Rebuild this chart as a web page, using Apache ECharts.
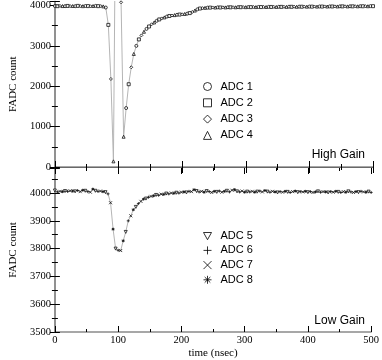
<!DOCTYPE html>
<html>
<head>
<meta charset="utf-8">
<title>FADC pulse</title>
<script src="https://cdn.jsdelivr.net/npm/echarts@6/dist/echarts.min.js"></script>
<style>
  html, body { margin: 0; padding: 0; background: #fff; }
  #chart { width: 382px; height: 360px; }
</style>
</head>
<body>
<div id="chart"></div>
<script>
// samples every 4 ns, 0..500 ns; ADC n takes every 4th sample
var highGain = [
  3988, 3984, 3990, 3986, 3983, 3989, 3985, 3987, 3983, 3990,   // 0-36
  3986, 3984, 3988, 3985, 3982, 3987, 3990, 3984, 3986, 3978,   // 40-76
  3950, 3520, 2180, 140, 7700, 7700, 4080, 750, 1460, 2050,     // 80-116
  2470, 2800, 3000, 3160, 3260, 3350, 3420, 3480, 3535, 3580,   // 120-156
  3620, 3655, 3680, 3705, 3725, 3740, 3752, 3762, 3770, 3776,   // 160-196
  3782, 3790, 3798, 3812, 3840, 3875, 3905, 3925, 3935, 3942,   // 200-236
  3946, 3948, 3952, 3950, 3954, 3951, 3955, 3953, 3957, 3955,   // 240-276
  3958, 3956, 3960, 3958, 3961, 3959, 3962, 3960, 3963, 3961,   // 280-316
  3964, 3962, 3965, 3963, 3966, 3964, 3967, 3965, 3968, 3966,   // 320-356
  3969, 3967, 3970, 3968, 3971, 3969, 3972, 3970, 3973, 3971,   // 360-396
  3974, 3972, 3975, 3973, 3976, 3974, 3977, 3975, 3977, 3976,   // 400-436
  3978, 3977, 3979, 3978, 3980, 3978, 3981, 3979, 3982, 3980,   // 440-476
  3983, 3981, 3984, 3982, 3985, 3983                            // 480-500
];
var lowGain = [
  4009, 4004, 4006, 4005, 4007, 4006, 4008, 4007, 4006, 4009,   // 0-36
  4005, 4010, 4008, 4005, 4003, 4014, 4008, 4006, 4007, 4005,   // 40-76
  4003, 3997, 3965, 3870, 3800, 3794, 3793, 3828, 3860, 3900,   // 80-116
  3918, 3940, 3950, 3962, 3970, 3978, 3980, 3985, 3988, 3990,   // 120-156
  3993, 3992, 3996, 3995, 3998, 3997, 4000, 3999, 4001, 4000,   // 160-196
  4003, 4004, 4002, 4006, 4005, 4012, 4007, 4004, 4006, 4003,   // 200-236
  4007, 4005, 4002, 4006, 4004, 4007, 4003, 4006, 4008, 4004,   // 240-276
  4010, 4012, 4006, 4004, 4007, 4003, 4005, 4004, 4006, 4003,   // 280-316
  4005, 4007, 4004, 4009, 4005, 4003, 4006, 4004, 4002, 4005,   // 320-356
  4003, 4006, 4004, 4002, 4005, 4007, 4003, 4005, 4004, 4006,   // 360-396
  4003, 4005, 4002, 4004, 4006, 4003, 4005, 4004, 4002, 4005,   // 400-436
  4003, 4006, 4004, 4002, 4005, 4003, 4006, 4004, 4002, 4005,   // 440-476
  4003, 4006, 4004, 4003, 4005, 4002                            // 480-500
];
var sampleStep = 4;
var highNames = ['ADC 1', 'ADC 2', 'ADC 3', 'ADC 4'];
var lowNames = ['ADC 5', 'ADC 6', 'ADC 7', 'ADC 8'];
var highSymbols = ['circle', 'rect', 'diamond', 'triangle'];
var lowSymbols = [
  'path://M0,0 L10,0 L5,9 Z',
  'path://M5,0 L5,10 M0,5 L10,5',
  'path://M1,1 L9,9 M9,1 L1,9',
  'path://M5,0 L5,10 M0,5 L10,5 M1.5,1.5 L8.5,8.5 M8.5,1.5 L1.5,8.5'
];

var serif = 'Liberation Serif';
var sans = 'Liberation Sans';
var frame = '#8a8a8a';

var chart = echarts.init(document.getElementById('chart'));

function pairs(vals) {
  return vals.map(function (v, i) { return [i * sampleStep, v]; });
}
function adcPoints(vals, k) {
  return pairs(vals).filter(function (p, i) { return i % 4 === k; });
}

function xAx(grid, pos, opts) {
  return Object.assign({
    type: 'value', gridIndex: grid, position: pos,
    min: 0, max: 500, interval: 100,
    axisLine: { show: true, lineStyle: { color: frame, width: 1.5 } },
    axisTick: { show: true, inside: true, length: 6, lineStyle: { color: '#000' } },
    minorTick: { show: true, splitNumber: 2, length: 3, lineStyle: { color: '#000' } },
    axisLabel: { show: false },
    splitLine: { show: false }
  }, opts || {});
}
function yAx(grid, pos, min, max, interval, opts) {
  return Object.assign({
    type: 'value', gridIndex: grid, position: pos,
    min: min, max: max, interval: interval,
    axisLine: { show: true, lineStyle: { color: frame, width: 1.5 } },
    axisTick: { show: true, inside: true, length: 5, lineStyle: { color: '#000' } },
    minorTick: { show: true, splitNumber: 2, length: 3, lineStyle: { color: '#000' } },
    axisLabel: { show: false },
    splitLine: { show: false }
  }, opts || {});
}
function yLabel(step) {
  return {
    show: true, margin: 4, fontFamily: serif, fontSize: 10.5, color: '#000',
    formatter: function (v) { return v % step === 0 ? String(v) : ''; }
  };
}
var yName = {
  name: 'FADC count', nameLocation: 'middle', nameGap: 27,
  nameTextStyle: { fontFamily: serif, fontSize: 11, color: '#000' }
};

var series = [
  { type: 'line', xAxisIndex: 0, yAxisIndex: 0, data: pairs(highGain), showSymbol: false,
    silent: true, lineStyle: { color: '#b5b5b5', width: 1 }, z: 1 },
  { type: 'line', xAxisIndex: 2, yAxisIndex: 2, data: pairs(lowGain), showSymbol: false,
    silent: true, lineStyle: { color: '#b5b5b5', width: 1 }, z: 1 }
];
highNames.forEach(function (n, k) {
  series.push({
    type: 'scatter', name: n, xAxisIndex: 0, yAxisIndex: 0,
    data: adcPoints(highGain, k), symbol: highSymbols[k], symbolSize: 3,
    itemStyle: { color: '#fff', borderColor: '#111', borderWidth: 1 }, z: 3
  });
});
lowNames.forEach(function (n, k) {
  series.push({
    type: 'scatter', name: n, xAxisIndex: 2, yAxisIndex: 2,
    data: adcPoints(lowGain, k), symbol: lowSymbols[k], symbolSize: 3,
    itemStyle: { color: '#fff', borderColor: '#111', borderWidth: 1 }, z: 3
  });
});

function legendOf(names, icons, top, gap) {
  return {
    orient: 'vertical', left: 201, top: top, itemGap: gap, padding: 0,
    itemWidth: 8, itemHeight: 8, selectedMode: false,
    itemStyle: { color: 'none', borderColor: '#000', borderWidth: 1 },
    textStyle: { fontFamily: sans, fontSize: 11, color: '#000', padding: [0, 0, 0, 4], lineHeight: 12 },
    data: names.map(function (n, i) { return { name: n, icon: icons[i] }; })
  };
}

chart.setOption({
  animation: false,
  backgroundColor: '#fff',
  grid: [
    { left: 40, right: 9, top: 1, height: 166 },
    { left: 40, right: 9, top: 168, height: 166 }
  ],
  xAxis: [
    xAx(0, 'bottom', { axisLine: { show: true, lineStyle: { color: '#000', width: 1.2 } } }),
    xAx(0, 'top'),
    xAx(1, 'bottom', {
      axisLabel: { show: true, margin: 3, fontFamily: serif, fontSize: 10.5, color: '#000' },
      name: 'time (nsec)', nameLocation: 'middle', nameGap: 16,
      nameTextStyle: { fontFamily: serif, fontSize: 11, color: '#000' }
    }),
    xAx(1, 'top', { axisLine: { show: false } })
  ],
  yAxis: [
    yAx(0, 'left', 0, 4100, 1000, Object.assign({ axisLabel: yLabel(1000) }, yName)),
    yAx(0, 'right', 0, 4100, 1000),
    yAx(1, 'left', 3500, 4090, 100, Object.assign({ axisLabel: yLabel(100) }, yName)),
    yAx(1, 'right', 3500, 4090, 100)
  ],
  legend: [
    legendOf(highNames, highSymbols, 80, 3.3),
    legendOf(lowNames, lowSymbols, 230, 1.7)
  ],
  graphic: [
    { type: 'text', right: 17, top: 149, style: { text: 'High Gain', font: '12px "Liberation Sans"', fill: '#000' } },
    { type: 'text', right: 17, top: 315, style: { text: 'Low Gain', font: '12px "Liberation Sans"', fill: '#000' } }
  ],
  series: series
});
</script>
</body>
</html>
